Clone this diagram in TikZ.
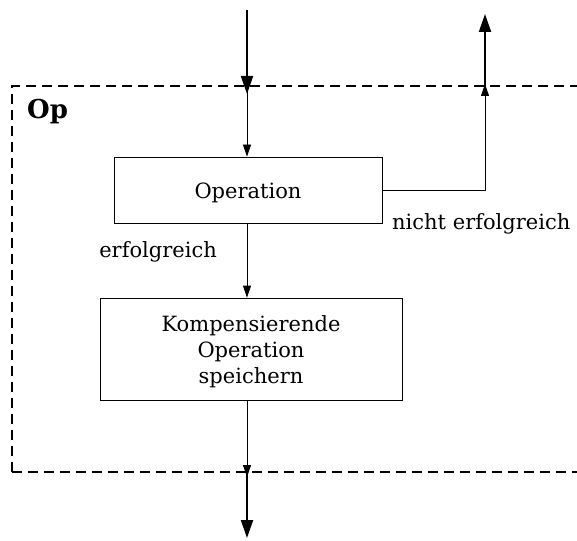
\documentclass[tikz,border=0pt]{standalone}
\usepackage{fontspec}
\setmainfont{DejaVu Serif}
\usetikzlibrary{arrows.meta}
\begin{document}
\begin{tikzpicture}[x=1pt,y=-1pt,
  txt/.style={font=\fontsize{21}{26}\selectfont,inner sep=0pt,align=center},
  box/.style={draw,line width=0.8pt,inner sep=0pt},
  thin/.style={line width=0.8pt,-{Triangle[length=12pt,width=8pt]}},
  thick/.style={line width=2pt,-{Triangle[length=18pt,width=12pt]}},
  frame/.style={line width=1.4pt,dash pattern=on 10pt off 6pt}]
\useasboundingbox (0,0) rectangle (577,540);
% dashed frame of the operation block
\draw[frame] (12,472) -- (12,86) -- (590,86);
\draw[frame] (12,472) -- (590,472);
\node[anchor=west,font=\fontsize{26}{30}\selectfont\bfseries,inner sep=0pt] (op) at (27,112) {Op};
% boxes and their texts
\node[box,minimum width=268pt,minimum height=66pt] (oper) at (248,190) {};
\node[txt] (operText) at ([yshift=-3pt]oper.center) {Operation};
\node[box,minimum width=302pt,minimum height=102pt] (komp) at (251,349) {};
\node[txt] (kompText) at ([yshift=-3pt]komp.center) {Kompensierende\\Operation\\speichern};
% connection points on the frame
\coordinate (inTop) at (247,10);
\coordinate (inFrame) at (247,86);
\coordinate (outFrame) at (485,86);
\coordinate (outTop) at (485,14);
\coordinate (botFrame) at (247,472);
\coordinate (botEnd) at (247,538);
% connectors
\draw[thick] (inTop) -- ([yshift=-8pt]inFrame);
\draw[thin] (inFrame) -- (oper.north -| inFrame);
\draw[thin] (oper.east) -| ([yshift=2pt]outFrame);
\draw[thick] ([yshift=-6pt]outFrame) -- (outTop);
\draw[thin] (oper.south -| inFrame) -- (komp.north -| inFrame);
\draw[thin] (komp.south -| inFrame) -- ([yshift=-5pt]botFrame);
\draw[thick] ([yshift=2pt]botFrame) -- (botEnd);
\node[txt,anchor=east] (ok) at (217,252) {erfolgreich};
\node[txt,anchor=west] (nok) at (392,224) {nicht erfolgreich};
\end{tikzpicture}
\end{document}
